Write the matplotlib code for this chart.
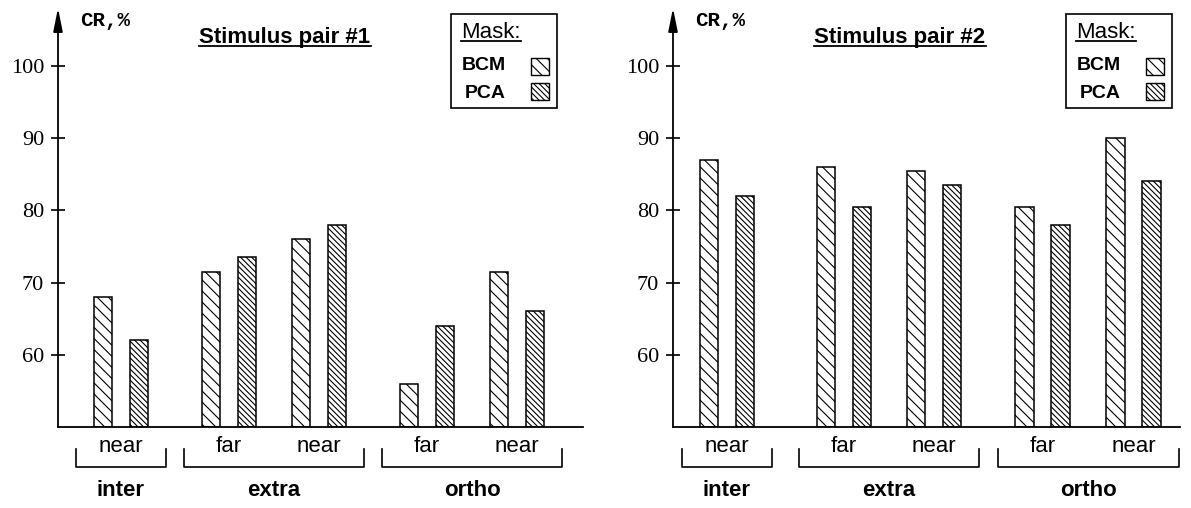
import matplotlib.pyplot as plt
from matplotlib.patches import Rectangle
from matplotlib.lines import Line2D

# data
sub_labels = ['near', 'far', 'near', 'far', 'near']
group_names = ['inter', 'extra', 'ortho']
group_members = [[0], [1, 2], [3, 4]]
bcm_pair1 = [68, 71.5, 76, 56, 71.5]
pca_pair1 = [62, 73.5, 78, 64, 66]
bcm_pair2 = [87, 86, 85.5, 80.5, 90]
pca_pair2 = [82, 80.5, 83.5, 78, 84]
yticks = [60, 70, 80, 90, 100]
titles = ['Stimulus pair #1', 'Stimulus pair #2']

W, H = 1191, 508
plt.rcParams['hatch.linewidth'] = 0.8
fig = plt.figure(figsize=(W / 100, H / 100), dpi=100)

sans = 'Liberation Sans'
hatch_bcm = '\\' * 3
hatch_pca = '\\' * 6


def fx(x):
    return x / W


def fy(y):
    return 1 - y / H


def underline(txt, y_px):
    fig.canvas.draw()
    bb = txt.get_window_extent()
    fig.add_artist(Line2D([fx(bb.x0), fx(bb.x1)], [fy(y_px), fy(y_px)],
                          transform=fig.transFigure, color='k', lw=1.3))


def panel(x0, x1, pos, bcm, pca, title):
    ax = fig.add_axes([fx(x0), fy(427), fx(x1 - x0), 419 / H])
    # 90 px per unit, unit 0 sits 63 px right of the axis
    lo = -63 / 90
    hi = lo + (x1 - x0) / 90
    ax.set_xlim(lo, hi)
    ax.set_ylim(50, 108)
    w = 0.21
    ax.bar([p - 0.2 for p in pos], [v - 50 for v in bcm], w, bottom=50,
           color='white', edgecolor='k', lw=1.1, hatch=hatch_bcm)
    ax.bar([p + 0.2 for p in pos], [v - 50 for v in pca], w, bottom=50,
           color='white', edgecolor='k', lw=1.1, hatch=hatch_pca)
    for s in ['top', 'right', 'left']:
        ax.spines[s].set_visible(False)
    ax.spines['bottom'].set_linewidth(1.3)
    ax.set_xticks([])
    ax.set_yticks(yticks)
    ax.set_yticklabels([str(t) for t in yticks], family='Liberation Serif', fontsize=16)
    ax.tick_params(axis='y', direction='inout', length=10, width=1.2, pad=5)
    ax.annotate('', xy=(lo, 108), xytext=(lo, 50), annotation_clip=False,
                arrowprops=dict(arrowstyle='-|>,head_length=1.4,head_width=0.28',
                                lw=1.3, color='k', shrinkA=0, shrinkB=0))

    tr = ax.get_xaxis_transform()
    hgt = 419
    for p, lab in zip(pos, sub_labels):
        ax.text(p, (427 - 446) / hgt, lab, transform=tr, ha='center', va='center',
                family=sans, fontsize=16, clip_on=False)
    for name, idx in zip(group_names, group_members):
        a = pos[idx[0]] - 0.5
        b = pos[idx[-1]] + 0.5
        yt = (427 - 449) / hgt
        yb = (427 - 467) / hgt
        ax.plot([a, a, b, b], [yt, yb, yb, yt], transform=tr, color='k', lw=1.2,
                clip_on=False)
        ax.text((a + b) / 2, (427 - 490) / hgt, name, transform=tr, ha='center',
                va='center', family=sans, fontsize=16, fontweight='bold', clip_on=False)

    # axis label
    fig.text(fx(x0 + 22), fy(20), 'CR,%', family='Liberation Mono', fontweight='bold',
             fontsize=15, ha='left', va='center')
    # title
    t = fig.text(fx(x0 + 227), fy(43), title, family=sans, fontweight='bold',
                 fontsize=16, ha='center', va='baseline')
    underline(t, 46)

    # legend box
    lx = x0 + 393
    fig.add_artist(Rectangle((fx(lx), fy(108)), fx(106), 94 / H, transform=fig.transFigure,
                             fill=False, edgecolor='k', lw=1.2))
    m = fig.text(fx(lx + 10), fy(38), 'Mask:', family=sans, fontsize=16,
                 ha='left', va='baseline')
    underline(m, 41)
    fig.text(fx(lx + 11), fy(66), 'BCM', family=sans, fontsize=14, fontweight='bold',
             ha='left', va='center')
    fig.text(fx(lx + 14), fy(93), 'PCA', family=sans, fontsize=14, fontweight='bold',
             ha='left', va='center')
    for yy, h in [(75, hatch_bcm), (100, hatch_pca)]:
        fig.add_artist(Rectangle((fx(lx + 80), fy(yy)), fx(18), 17 / H,
                                 transform=fig.transFigure, facecolor='white',
                                 edgecolor='k', lw=1.0, hatch=h))
    return ax


panel(58, 583, [0, 1.2, 2.2, 3.4, 4.4], bcm_pair1, pca_pair1, titles[0])
panel(673, 1180, [-0.1, 1.2, 2.2, 3.41, 4.42], bcm_pair2, pca_pair2, titles[1])

fig.savefig('out.png', dpi=100)
